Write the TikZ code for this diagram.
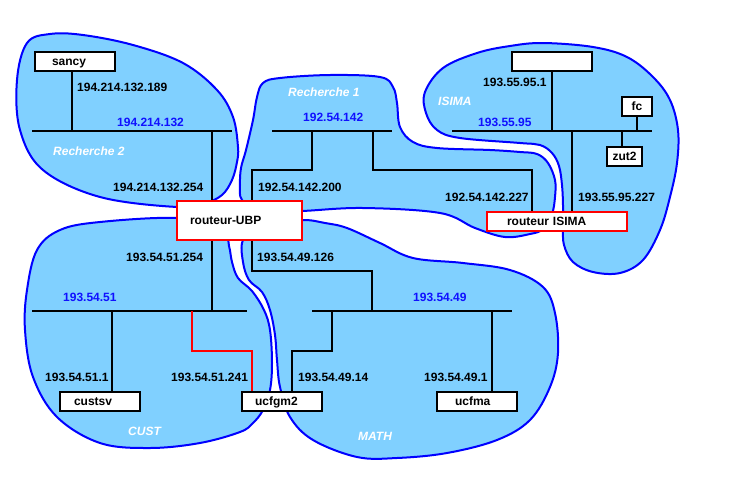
\documentclass[tikz,border=0pt]{standalone}
\usepackage{fontspec}
\setmainfont{Liberation Sans}
\definecolor{lblue}{RGB}{128,208,255}
\definecolor{lineblue}{RGB}{0,0,255}
\definecolor{lblblue}{RGB}{16,16,255}
\begin{document}
\begin{tikzpicture}[x=1pt,y=-1pt,
  blob/.style={fill=lblue,draw=lineblue,line width=2pt},
  net/.style={line width=2pt},
  lbl/.style={anchor=west,inner sep=0pt,font=\fontsize{12}{14}\selectfont\bfseries},
  netlbl/.style={lbl,text=lblblue},
  grp/.style={lbl,text=white,font=\fontsize{12}{14}\selectfont\bfseries\itshape},
  box/.style={draw,line width=2pt,fill=white,inner ysep=0pt,minimum height=19pt,align=left,
    font=\fontsize{12}{14}\selectfont\bfseries,text height=8.7pt,text depth=0pt},
  rbox/.style={box,draw=red}]
\useasboundingbox (0,0) rectangle (729,477);

% ---------- areas ----------
\draw[blob] plot[smooth cycle,tension=0.6] coordinates {
 (27,43) (50,34) (83,35) (133,45) (183,63) (217,90) (233,117) (238,147) (237,162)
 (232,180) (222,195) (205,203) (177,207) (100,197) (43,170) (20,130) (17,80)};
\draw[blob] plot[smooth cycle,tension=0.6] coordinates {
 (257,97) (263,83) (280,78) (330,75) (380,77) (393,87) (397,103) (400,127) (413,142)
 (437,148) (490,150) (520,152) (537,154) (548,163) (555,180) (555,197) (552,214)
 (543,229) (530,234) (505,237) (475,228) (440,213) (363,208) (302,211) (260,212)
 (242,200) (240,185) (241,168) (246,150) (253,120)};
\draw[blob] plot[smooth cycle,tension=0.6] coordinates {
 (425,92) (443,68) (477,53) (510,46) (543,43) (593,47) (627,57) (653,77) (670,100)
 (678,130) (677,163) (670,197) (660,230) (643,260) (620,273) (593,272) (573,262)
 (564,245) (563,227) (563,205) (562,185) (559,166) (552,153) (540,145) (520,143)
 (460,138) (437,130) (426,113)};
\draw[blob] plot[smooth cycle,tension=0.6] coordinates {
 (177,218) (100,222) (60,230) (37,250) (27,290) (25,330) (33,377) (57,417) (100,443)
 (150,448) (200,443) (240,432) (253,423) (263,410) (270,390) (272,363) (270,330)
 (264,310) (252,291) (238,278) (232,262) (229,246) (222,228)};
\draw[blob] plot[smooth cycle,tension=0.6] coordinates {
 (243,240) (243,262) (249,280) (262,292) (270,310) (275,335) (277,360) (280,387)
 (290,417) (313,440) (357,457) (397,458) (447,453) (497,440) (530,420) (550,387)
 (558,353) (555,313) (543,287) (510,270) (463,263) (413,258) (380,243) (347,228)
 (325,223) (302,220) (260,224)};

% ---------- bus coordinates ----------
\coordinate (bR2l) at (32,131);  \coordinate (bR2r) at (232,131);
\coordinate (bR1l) at (272,131); \coordinate (bR1r) at (392,131);
\coordinate (bISl) at (452,131); \coordinate (bISr) at (652,131);
\coordinate (bCUl) at (32,311);  \coordinate (bCUr) at (247,311);
\coordinate (bMAl) at (312,311); \coordinate (bMAr) at (512,311);

% ---------- boxes ----------
\node[box,text width=46pt,inner xsep=17pt] (sancy) at (75,61.5) {sancy};
\node[rbox,text width=99pt,inner xsep=13pt,minimum height=39pt] (rubp) at (239.5,220.5) {routeur-UBP};
\node[rbox,text width=100pt,inner xsep=20pt] (risima) at (557,221) {routeur ISIMA};
\node[box,minimum width=80pt] (isbox) at (552,61) {};
\node[box,minimum width=30pt,inner xsep=0pt] (fc) at (637,106) {fc};
\node[box,minimum width=35pt,inner xsep=0pt] (zut2) at (624.5,156) {zut2};
\node[box,text width=52pt,inner xsep=14pt] (custsv) at (100,401) {custsv};
\node[box,text width=54pt,inner xsep=13pt] (ucfgm2) at (282,401) {ucfgm2};
\node[box,text width=44pt,inner xsep=18pt] (ucfma) at (477,401) {ucfma};

% ---------- network lines ----------
\draw[net] (bR2l) -- (bR2r);
\draw[net] (bR1l) -- (bR1r);
\draw[net] (bISl) -- (bISr);
\draw[net] (bCUl) -- (bCUr);
\draw[net] (bMAl) -- (bMAr);

\coordinate (R2a) at (72,131);  \draw[net] (sancy.south -| R2a) -- (R2a);
\coordinate (R2b) at (212,131); \draw[net] (R2b) -- (rubp.north -| R2b);
\coordinate (R1a) at (312,131); \coordinate (R1c) at (252,170);
\draw[net] (R1a) |- (R1c) -- (rubp.north -| R1c);
\coordinate (R1b) at (373,131); \coordinate (R1d) at (532,170);
\draw[net] (R1b) |- (R1d) -- (risima.north -| R1d);
\coordinate (ISa) at (552,131); \draw[net] (isbox.south -| ISa) -- (ISa);
\coordinate (ISb) at (637,131); \draw[net] (fc.south -| ISb) -- (ISb);
\coordinate (ISc) at (622,131); \draw[net] (ISc) -- (zut2.north -| ISc);
\coordinate (ISd) at (572,131); \draw[net] (ISd) -- (risima.north -| ISd);
\coordinate (CUa) at (212,311); \draw[net] (rubp.south -| CUa) -- (CUa);
\coordinate (CUb) at (112,311); \draw[net] (CUb) -- (custsv.north -| CUb);
\coordinate (CUc) at (192,311); \coordinate (CUd) at (252,351);
\draw[net,red] (CUc) |- (CUd) -- (ucfgm2.north -| CUd);
\coordinate (MAr) at (252,271); \coordinate (MAa) at (372,311);
\draw[net] (rubp.south -| MAr) -- (MAr) -| (MAa);
\coordinate (MAb) at (332,311); \coordinate (MAc) at (292,351);
\draw[net] (MAb) |- (MAc) -- (ucfgm2.north -| MAc);
\coordinate (MAd) at (492,311); \draw[net] (MAd) -- (ucfma.north -| MAd);

% ---------- labels ----------
\node[lbl] (l1) at (77,87) {194.214.132.189};
\node[netlbl] (n1) at (117,122) {194.214.132};
\node[grp] (g1) at (53,151) {Recherche 2};
\node[lbl] (l2) at (113,187) {194.214.132.254};
\node[grp] (g2) at (288,92) {Recherche 1};
\node[netlbl] (n2) at (303,117) {192.54.142};
\node[lbl] (l3) at (258,187) {192.54.142.200};
\node[lbl] (l4) at (445,197) {192.54.142.227};
\node[lbl] (l5) at (483,82) {193.55.95.1};
\node[grp] (g3) at (438,101) {ISIMA};
\node[netlbl] (n3) at (478,122) {193.55.95};
\node[lbl] (l6) at (578,197) {193.55.95.227};
\node[lbl] (l7) at (126,257) {193.54.51.254};
\node[netlbl] (n4) at (63,297) {193.54.51};
\node[lbl] (l8) at (45,377) {193.54.51.1};
\node[lbl] (l9) at (171,377) {193.54.51.241};
\node[grp] (g4) at (128,431) {CUST};
\node[lbl] (l10) at (257,257) {193.54.49.126};
\node[netlbl] (n5) at (413,297) {193.54.49};
\node[lbl] (l11) at (298,377) {193.54.49.14};
\node[lbl] (l12) at (424,377) {193.54.49.1};
\node[grp] (g5) at (358,436) {MATH};
\end{tikzpicture}
\end{document}
